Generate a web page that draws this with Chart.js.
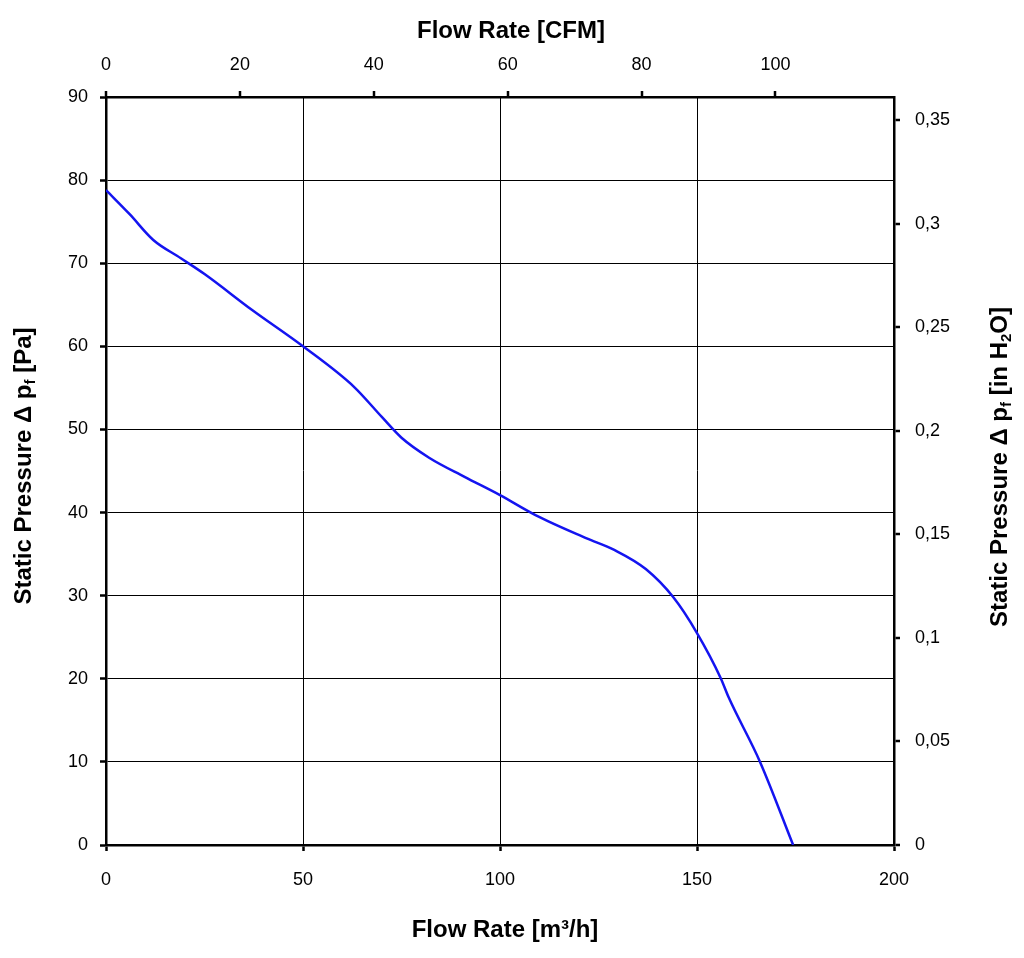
<!DOCTYPE html>
<html>
<head>
<meta charset="utf-8">
<script src="https://cdn.jsdelivr.net/npm/chart.js@4/dist/chart.umd.min.js"></script>
<style>
html,body{margin:0;padding:0;background:#fff;}
#wrap{width:1024px;height:958px;position:relative;}
</style>
</head>
<body>
<div id="wrap"><canvas id="c" width="1024" height="958"></canvas></div>
<script>
// Flow rate in m³/h
const flowRate = [0, 6, 12, 19, 25, 37, 50, 63, 70, 75, 82, 91, 100, 109, 122, 129, 137, 144, 150, 156, 158, 166, 174.4];
// Static pressure in Pa
const staticPressure = [78.8, 75.9, 72.8, 70.6, 68.7, 64.4, 60.0, 55.1, 51.5, 49.0, 46.6, 44.3, 42.1, 39.7, 36.9, 35.5, 33.2, 29.8, 25.5, 20.1, 17.8, 10.0, 0];
const xRange = [0, 200];
const yRange = [0, 90];
const M3H_PER_CFM = 1.699;
const PA_PER_INH2O = 249.089;
const titleBottom = 'Flow Rate [m³/h]';
const titleTop = 'Flow Rate [CFM]';
const titleLeft = [['Static Pressure Δ p', false], ['f', true], [' [Pa]', false]];
const titleRight = [['Static Pressure Δ p', false], ['f', true], [' [in H', false], ['2', true], ['O]', false]];

const FONT = '"Liberation Sans", Arial, sans-serif';

function drawSegs(ctx, segs, cx, cy, rot, size) {
  ctx.save();
  ctx.translate(cx, cy);
  ctx.rotate(rot);
  const big = 'bold ' + size + 'px ' + FONT;
  const small = 'bold ' + Math.round(size * 0.62) + 'px ' + FONT;
  let total = 0;
  segs.forEach(s => { ctx.font = s[1] ? small : big; total += ctx.measureText(s[0]).width; });
  let x = -total / 2;
  ctx.fillStyle = '#000';
  ctx.textBaseline = 'middle';
  ctx.textAlign = 'left';
  segs.forEach(s => {
    ctx.font = s[1] ? small : big;
    ctx.fillText(s[0], x, s[1] ? size * 0.28 : 0);
    x += ctx.measureText(s[0]).width;
  });
  ctx.restore();
}

const titlePlugin = {
  id: 'titles',
  afterDraw(chart) {
    const ctx = chart.ctx;
    drawSegs(ctx, [[titleTop, false]], 511, 31, 0, 24);
    drawSegs(ctx, [[titleBottom, false]], 505, 930, 0, 24);
    drawSegs(ctx, titleLeft, 24, 466, -Math.PI / 2, 24);
    drawSegs(ctx, titleRight, 1000, 467, -Math.PI / 2, 24);
  }
};

const tickFont = { family: FONT, size: 18 };

new Chart(document.getElementById('c'), {
  type: 'line',
  data: {
    datasets: [{
      data: flowRate.map((x, i) => ({ x: x, y: staticPressure[i] })),
      borderColor: '#1414F0',
      borderWidth: 2.5,
      pointRadius: 0,
      tension: 0.15,
      cubicInterpolationMode: 'monotone',
      fill: false,
      xAxisID: 'x',
      yAxisID: 'y'
    }]
  },
  options: {
    responsive: false,
    animation: false,
    plugins: { legend: { display: false }, tooltip: { enabled: false } },
    layout: { padding: 0 },
    scales: {
      x: {
        type: 'linear', position: 'bottom', min: xRange[0], max: xRange[1],
        afterFit(s) { s.height = 113; },
        ticks: { stepSize: 50, color: '#000', font: tickFont, padding: 18, maxRotation: 0 },
        grid: { color: '#000', lineWidth: 1, tickLength: 6, tickWidth: 2.5 },
        border: { color: '#000', width: 2.5 }
      },
      xTop: {
        type: 'linear', position: 'top', min: xRange[0] / M3H_PER_CFM, max: xRange[1] / M3H_PER_CFM,
        afterFit(s) { s.height = 97; },
        ticks: { stepSize: 20, color: '#000', font: tickFont, padding: 15, includeBounds: false, maxRotation: 0 },
        grid: { drawOnChartArea: false, color: '#000', lineWidth: 2, tickLength: 6, tickWidth: 2.5 },
        border: { color: '#000', width: 2.5 }
      },
      y: {
        type: 'linear', position: 'left', min: yRange[0], max: yRange[1],
        afterFit(s) { s.width = 106; },
        ticks: { stepSize: 10, color: '#000', font: tickFont, padding: 12 },
        grid: { color: '#000', lineWidth: 1, tickLength: 6, tickWidth: 2.5 },
        border: { color: '#000', width: 2.5 }
      },
      yRight: {
        type: 'linear', position: 'right', min: yRange[0] / PA_PER_INH2O, max: yRange[1] / PA_PER_INH2O,
        afterFit(s) { s.width = 130; },
        ticks: {
          stepSize: 0.05, color: '#000', font: tickFont, padding: 15, includeBounds: false,
          callback: v => String(parseFloat(v.toFixed(2))).replace('.', ',')
        },
        grid: { drawOnChartArea: false, color: '#000', lineWidth: 2, tickLength: 6, tickWidth: 2.5 },
        border: { color: '#000', width: 2.5 }
      }
    }
  },
  plugins: [titlePlugin]
});
</script>
</body>
</html>
